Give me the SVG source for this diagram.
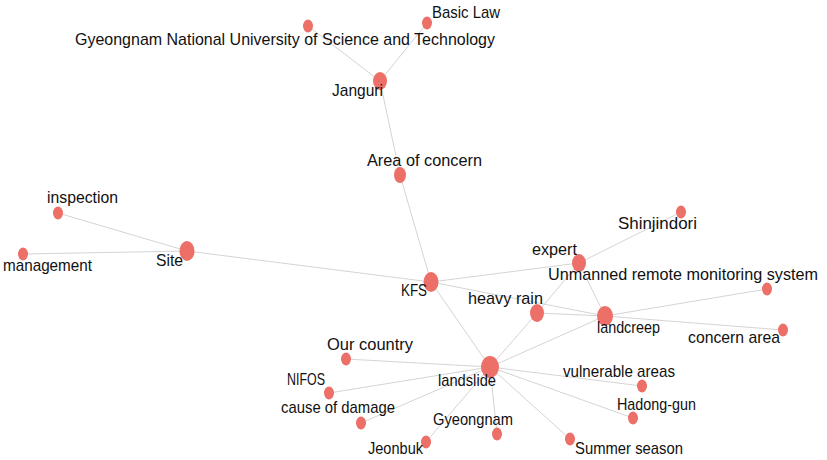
<svg xmlns="http://www.w3.org/2000/svg" width="827" height="460" viewBox="0 0 827 460">
<style>
.e{stroke:#d4d4d4;stroke-width:1;fill:none}
.n{fill:#ec7068}
.t{font-family:"Liberation Sans",Arial,sans-serif;font-size:17px;fill:#111}
</style>
<rect width="827" height="460" fill="#fff"/>
<g id="edges">
<line class="e" x1="308" y1="26" x2="380" y2="81"/>
<line class="e" x1="427" y1="23" x2="380" y2="81"/>
<line class="e" x1="380" y1="81" x2="400" y2="175"/>
<line class="e" x1="400" y1="175" x2="431" y2="282"/>
<line class="e" x1="58" y1="213" x2="187" y2="251"/>
<line class="e" x1="23" y1="254" x2="187" y2="251"/>
<line class="e" x1="187" y1="251" x2="431" y2="282"/>
<line class="e" x1="431" y1="282" x2="579" y2="263"/>
<line class="e" x1="431" y1="282" x2="605" y2="316"/>
<line class="e" x1="431" y1="282" x2="490" y2="367"/>
<line class="e" x1="579" y1="263" x2="681" y2="212"/>
<line class="e" x1="579" y1="263" x2="605" y2="316"/>
<line class="e" x1="579" y1="263" x2="537" y2="313"/>
<line class="e" x1="537" y1="313" x2="490" y2="367"/>
<line class="e" x1="537" y1="313" x2="605" y2="316"/>
<line class="e" x1="605" y1="316" x2="767" y2="289"/>
<line class="e" x1="605" y1="316" x2="783" y2="330"/>
<line class="e" x1="605" y1="316" x2="490" y2="367"/>
<line class="e" x1="490" y1="367" x2="346" y2="359"/>
<line class="e" x1="490" y1="367" x2="329" y2="393"/>
<line class="e" x1="490" y1="367" x2="361" y2="423"/>
<line class="e" x1="490" y1="367" x2="426" y2="442"/>
<line class="e" x1="490" y1="367" x2="497" y2="434"/>
<line class="e" x1="490" y1="367" x2="570" y2="439"/>
<line class="e" x1="490" y1="367" x2="633" y2="418"/>
<line class="e" x1="490" y1="367" x2="642" y2="386"/>
</g>
<g id="n-gnust"><ellipse class="n" cx="308" cy="26" rx="5" ry="6.5"/><text class="t" x="75" y="45" textLength="420" lengthAdjust="spacingAndGlyphs">Gyeongnam National University of Science and Technology</text></g>
<g id="n-basiclaw"><ellipse class="n" cx="427" cy="23" rx="5" ry="6.5"/><text class="t" x="432" y="18" textLength="68" lengthAdjust="spacingAndGlyphs">Basic Law</text></g>
<g id="n-janguri"><ellipse class="n" cx="380" cy="81" rx="7" ry="9"/><text class="t" x="332" y="96" textLength="51" lengthAdjust="spacingAndGlyphs">Janguri</text></g>
<g id="n-areaofconcern"><ellipse class="n" cx="400" cy="175" rx="6" ry="8"/><text class="t" x="367" y="166" textLength="115" lengthAdjust="spacingAndGlyphs">Area of concern</text></g>
<g id="n-kfs"><ellipse class="n" cx="431" cy="282" rx="7.5" ry="10"/><text class="t" x="401" y="296" textLength="26" lengthAdjust="spacingAndGlyphs">KFS</text></g>
<g id="n-site"><ellipse class="n" cx="187" cy="251" rx="7.5" ry="10"/><text class="t" x="156" y="266" textLength="27" lengthAdjust="spacingAndGlyphs">Site</text></g>
<g id="n-inspection"><ellipse class="n" cx="58" cy="213" rx="5" ry="6.5"/><text class="t" x="47" y="203" textLength="71" lengthAdjust="spacingAndGlyphs">inspection</text></g>
<g id="n-management"><ellipse class="n" cx="23" cy="254" rx="5" ry="6.5"/><text class="t" x="3" y="271" textLength="89" lengthAdjust="spacingAndGlyphs">management</text></g>
<g id="n-expert"><ellipse class="n" cx="579" cy="263" rx="7" ry="9"/><text class="t" x="532" y="255" textLength="45" lengthAdjust="spacingAndGlyphs">expert</text></g>
<g id="n-shinjindori"><ellipse class="n" cx="681" cy="212" rx="5" ry="6.5"/><text class="t" x="618" y="229" textLength="79" lengthAdjust="spacingAndGlyphs">Shinjindori</text></g>
<g id="n-unmanned"><ellipse class="n" cx="767" cy="289" rx="5" ry="6.5"/><text class="t" x="548" y="280" textLength="270" lengthAdjust="spacingAndGlyphs">Unmanned remote monitoring system</text></g>
<g id="n-heavyrain"><ellipse class="n" cx="537" cy="313" rx="7" ry="9"/><text class="t" x="468" y="304" textLength="75" lengthAdjust="spacingAndGlyphs">heavy rain</text></g>
<g id="n-landcreep"><ellipse class="n" cx="605" cy="316" rx="8" ry="10"/><text class="t" x="597" y="333" textLength="63" lengthAdjust="spacingAndGlyphs">landcreep</text></g>
<g id="n-concernarea"><ellipse class="n" cx="783" cy="330" rx="5" ry="6.5"/><text class="t" x="688" y="343" textLength="92" lengthAdjust="spacingAndGlyphs">concern area</text></g>
<g id="n-landslide"><ellipse class="n" cx="490" cy="367" rx="9" ry="11"/><text class="t" x="438" y="386" textLength="58" lengthAdjust="spacingAndGlyphs">landslide</text></g>
<g id="n-ourcountry"><ellipse class="n" cx="346" cy="359" rx="5" ry="6.5"/><text class="t" x="327" y="350" textLength="86" lengthAdjust="spacingAndGlyphs">Our country</text></g>
<g id="n-nifos"><ellipse class="n" cx="329" cy="393" rx="5" ry="6.5"/><text class="t" x="287" y="385" textLength="38" lengthAdjust="spacingAndGlyphs">NIFOS</text></g>
<g id="n-causeofdamage"><ellipse class="n" cx="361" cy="423" rx="5" ry="6.5"/><text class="t" x="281" y="413" textLength="114" lengthAdjust="spacingAndGlyphs">cause of damage</text></g>
<g id="n-gyeongnam"><ellipse class="n" cx="497" cy="434" rx="5" ry="6.5"/><text class="t" x="433" y="425" textLength="80" lengthAdjust="spacingAndGlyphs">Gyeongnam</text></g>
<g id="n-jeonbuk"><ellipse class="n" cx="426" cy="442" rx="5" ry="6.5"/><text class="t" x="368" y="454" textLength="55" lengthAdjust="spacingAndGlyphs">Jeonbuk</text></g>
<g id="n-vulnerable"><ellipse class="n" cx="642" cy="386" rx="5" ry="6.5"/><text class="t" x="563" y="377" textLength="112" lengthAdjust="spacingAndGlyphs">vulnerable areas</text></g>
<g id="n-hadong"><ellipse class="n" cx="633" cy="418" rx="5" ry="6.5"/><text class="t" x="617" y="410" textLength="79" lengthAdjust="spacingAndGlyphs">Hadong-gun</text></g>
<g id="n-summer"><ellipse class="n" cx="570" cy="439" rx="5" ry="6.5"/><text class="t" x="575" y="454" textLength="108" lengthAdjust="spacingAndGlyphs">Summer season</text></g>
</svg>
